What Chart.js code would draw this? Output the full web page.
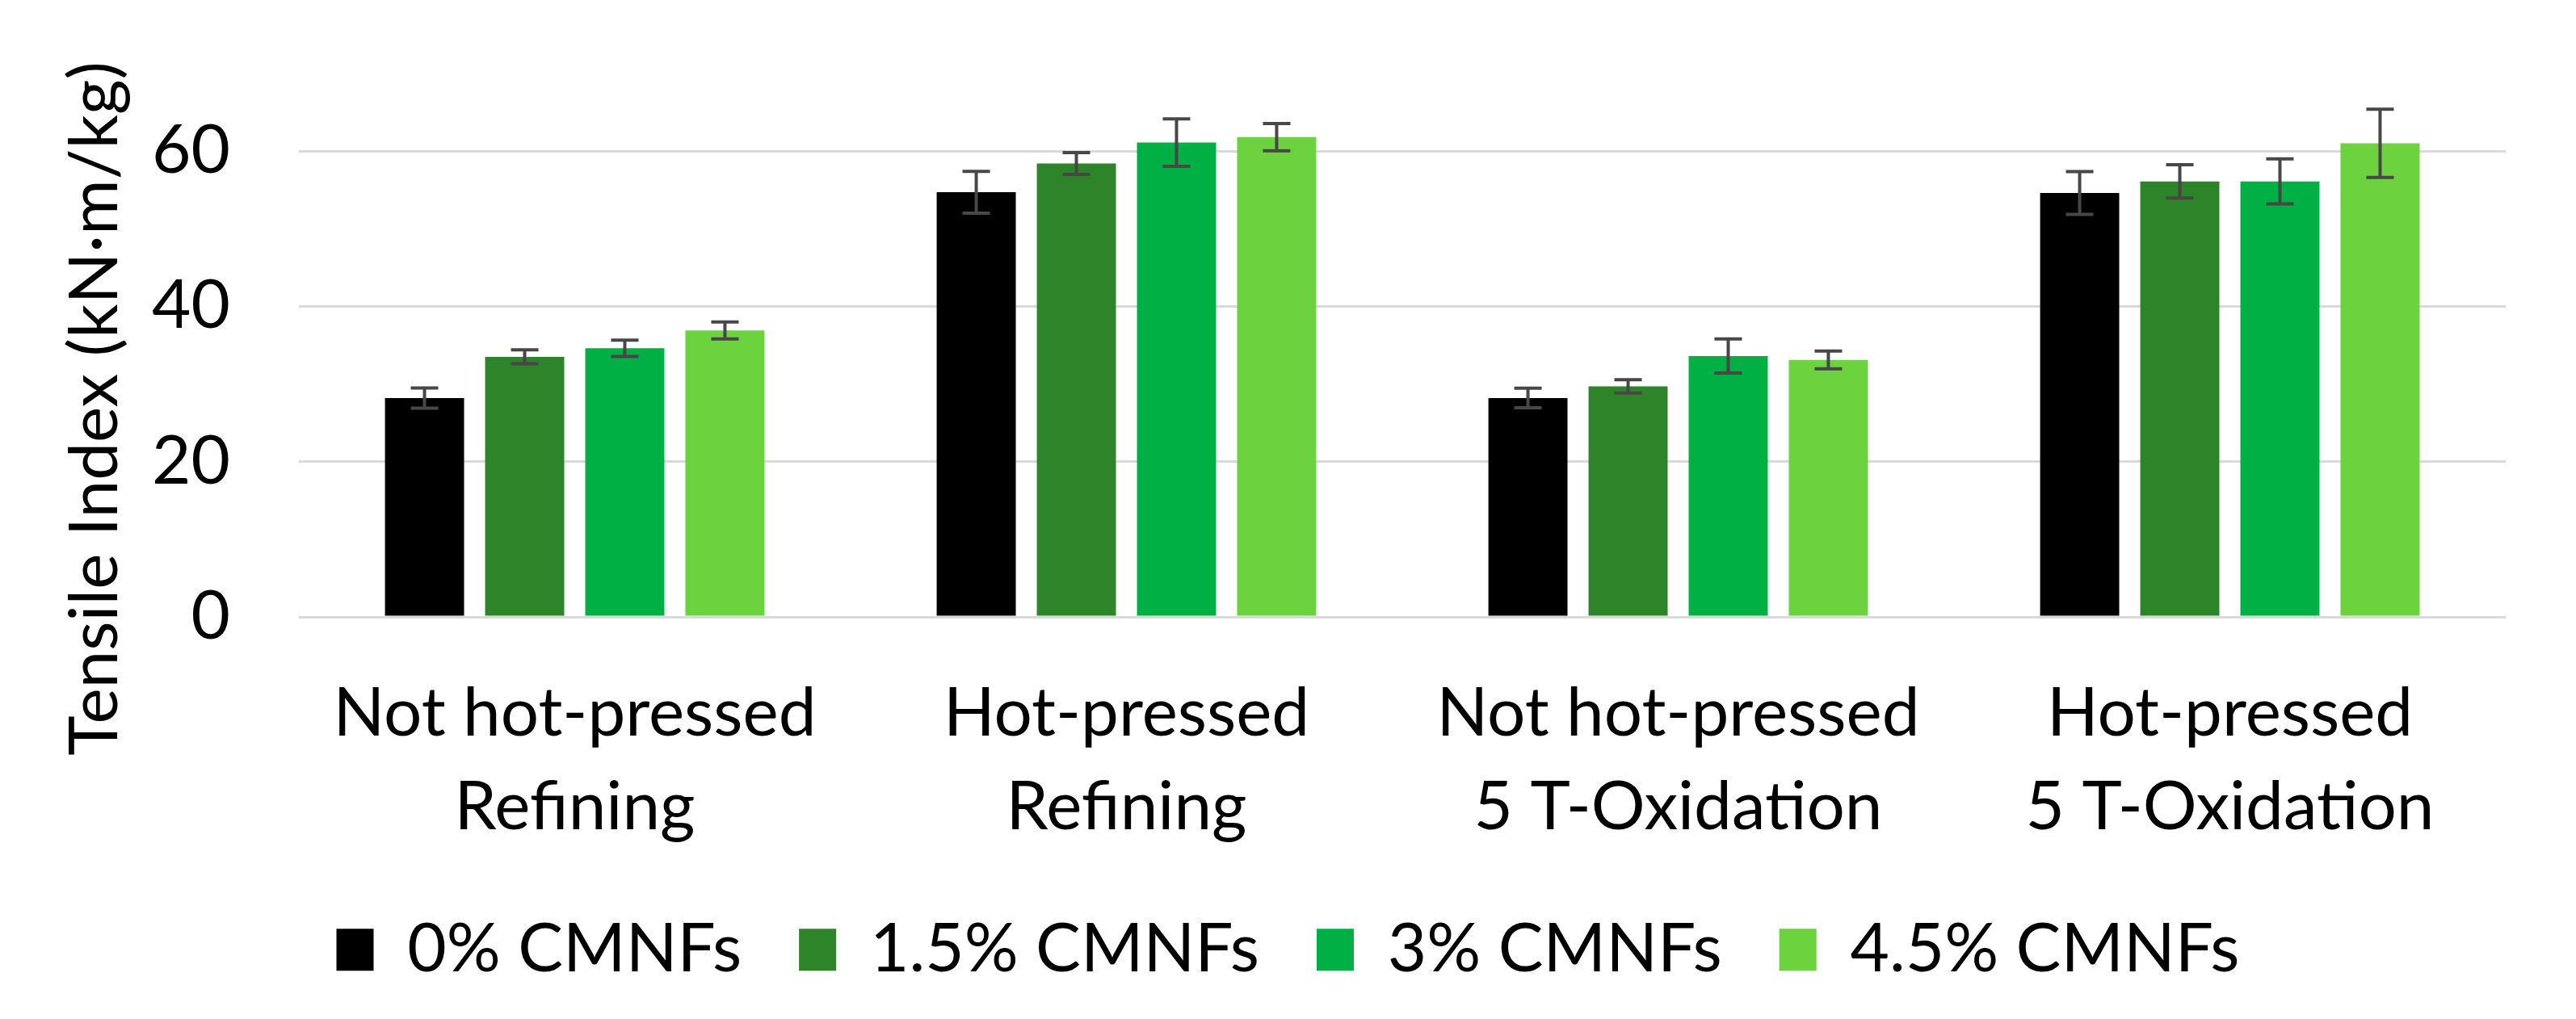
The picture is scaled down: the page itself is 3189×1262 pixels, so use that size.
<!DOCTYPE html>
<html>
<head>
<meta charset="utf-8">
<script src="https://cdn.jsdelivr.net/npm/chart.js@4.4.1/dist/chart.umd.min.js"></script>
<style>
  html, body { margin: 0; padding: 0; background: #ffffff; }
  #wrap { width: 3189px; height: 1262px; }
</style>
</head>
<body>
<div id="wrap"><canvas id="c" width="3189" height="1262"></canvas></div>
<script>
// ---- data ----
const categories = [
  ['Not hot-pressed', 'Refining'],
  ['Hot-pressed', 'Refining'],
  ['Not hot-pressed', '5 T-Oxidation'],
  ['Hot-pressed', '5 T-Oxidation']
];
const seriesNames = ['0% CMNFs', '1.5% CMNFs', '3% CMNFs', '4.5% CMNFs'];
const values0  = [28.2, 54.7, 28.2, 54.6];
const values15 = [33.5, 58.4, 29.7, 56.1];
const values3  = [34.6, 61.1, 33.6, 56.1];
const values45 = [36.9, 61.8, 33.1, 61.0];
const errors0  = [1.3, 2.7, 1.25, 2.75];
const errors15 = [0.9, 1.4, 0.85, 2.15];
const errors3  = [1.05, 3.05, 2.2, 2.9];
const errors45 = [1.1, 1.75, 1.15, 4.4];
const yTicks = [0, 20, 40, 60];
const yTitle = 'Tensile Index (kN·m/kg)';

// ---- styling ----
const colors = ['#000000', '#2e8428', '#00b044', '#6cd23e'];
const FAMILY = 'Lato, "Open Sans", sans-serif';
const mctx = document.createElement('canvas').getContext('2d');
mctx.font = '100px ' + FAMILY;
const FS = 100 * 598 / mctx.measureText('Not hot-pressed').width;

const LEG_PAD = 71;
const PAD_BOTTOM = 34;
const PLOT_BOTTOM = 764;
const H = 1262;

const errorBars = {
  id: 'errorBars',
  afterDatasetsDraw(chart) {
    const ctx = chart.ctx;
    const y = chart.scales.y;
    chart.data.datasets.forEach((ds, i) => {
      const meta = chart.getDatasetMeta(i);
      meta.data.forEach((bar, j) => {
        const v = ds.data[j], e = ds.errors[j];
        const yt = y.getPixelForValue(v + e), yb = y.getPixelForValue(v - e);
        ctx.save();
        ctx.strokeStyle = '#474747';
        ctx.lineWidth = 4;
        ctx.beginPath();
        ctx.moveTo(bar.x, yt); ctx.lineTo(bar.x, yb);
        ctx.moveTo(bar.x - 17, yt); ctx.lineTo(bar.x + 17, yt);
        ctx.moveTo(bar.x - 17, yb); ctx.lineTo(bar.x + 17, yb);
        ctx.stroke();
        ctx.restore();
      });
    });
  }
};

const yTitlePlugin = {
  id: 'yTitlePlugin',
  afterDraw(chart) {
    const ctx = chart.ctx;
    ctx.save();
    ctx.translate(145, 506);
    ctx.rotate(-Math.PI / 2);
    ctx.font = FS + 'px ' + FAMILY;
    ctx.fillStyle = '#000';
    ctx.textAlign = 'center';
    ctx.textBaseline = 'alphabetic';
    ctx.fillText(yTitle, 0, 0);
    ctx.restore();
  }
};

const allValues = [values0, values15, values3, values45];
const allErrors = [errors0, errors15, errors3, errors45];

new Chart(document.getElementById('c'), {
  type: 'bar',
  data: {
    labels: categories,
    datasets: seriesNames.map((name, i) => ({
      label: name,
      data: allValues[i],
      errors: allErrors[i],
      backgroundColor: colors[i],
      borderWidth: 0,
      categoryPercentage: 0.726,
      barPercentage: 0.79
    }))
  },
  options: {
    responsive: false,
    devicePixelRatio: 1,
    animation: false,
    layout: { padding: { left: 0, right: 0, top: 91, bottom: PAD_BOTTOM } },
    plugins: {
      legend: {
        position: 'bottom',
        labels: {
          boxWidth: 46,
          boxHeight: 52,
          padding: LEG_PAD,
          color: '#000',
          font: { family: FAMILY, size: FS }
        }
      },
      tooltip: { enabled: false }
    },
    scales: {
      x: {
        grid: { display: false, drawTicks: false },
        border: { display: false },
        ticks: {
          color: '#000',
          padding: 62,
          maxRotation: 0,
          autoSkip: false,
          font: { family: FAMILY, size: FS, lineHeight: '116px' }
        },
        afterFit(s) {
          s.height = (H - PAD_BOTTOM - (FS + LEG_PAD + 10)) - PLOT_BOTTOM;
        }
      },
      y: {
        min: 0,
        max: 70,
        afterBuildTicks(s) { s.ticks = yTicks.map(v => ({ value: v })); },
        grid: {
          color: '#d9d9d9', lineWidth: 3,
          drawTicks: true, tickLength: 85, tickColor: 'rgba(0,0,0,0)'
        },
        border: { display: false },
        ticks: {
          color: '#000',
          padding: 0,
          font: { family: FAMILY, size: FS }
        },
        afterFit(s) { s.width = 370; }
      },
      yRight: {
        position: 'right',
        display: true,
        grid: { display: false, drawTicks: false },
        border: { display: false },
        ticks: { display: false, padding: 0 },
        afterFit(s) { s.width = 87; }
      }
    }
  },
  plugins: [errorBars, yTitlePlugin]
});
</script>
</body>
</html>
